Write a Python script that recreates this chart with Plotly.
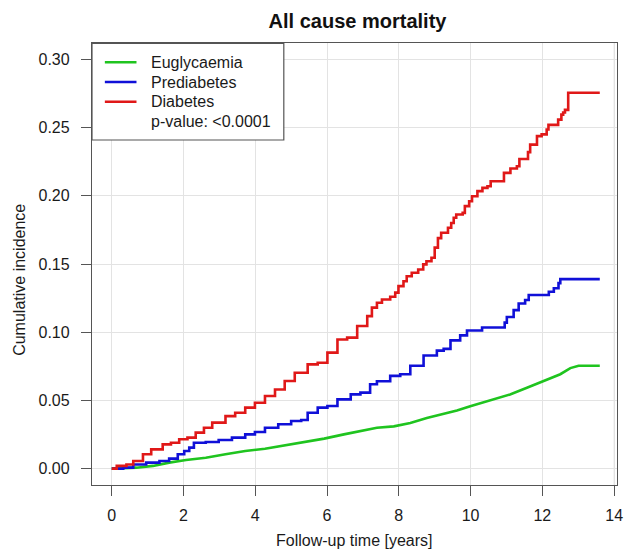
import plotly.graph_objects as go

# ---- data ----
t_red = [0, 0.14, 0.41, 0.6, 0.87, 1.1, 1.42, 1.65, 1.88, 2.11, 2.34, 2.57, 2.8, 3.17, 3.44, 3.72,
         3.99, 4.27, 4.55, 4.82, 5.1, 5.46, 5.74, 6.01, 6.29, 6.56, 6.84, 7.12, 7.25, 7.39, 7.53,
         7.76, 7.9, 7.99, 8.13, 8.22, 8.36, 8.54, 8.68, 8.77, 8.91, 9.0, 9.09, 9.18, 9.37, 9.46,
         9.53, 9.6, 9.78, 9.84, 9.96, 10.04, 10.19, 10.33, 10.47, 10.56, 10.93, 11.11, 11.29,
         11.36, 11.6, 11.66, 11.85, 11.98, 12.12, 12.17, 12.44, 12.53, 12.58, 12.63, 12.72, 13.6]
v_red = [0, 0.002, 0.003, 0.0056, 0.0105, 0.0141, 0.0178, 0.019, 0.0215, 0.0227, 0.0264, 0.030,
         0.0337, 0.0385, 0.041, 0.0447, 0.0483, 0.0532, 0.058, 0.0642, 0.0703, 0.0764, 0.0776,
         0.085, 0.0947, 0.096, 0.1045, 0.1118, 0.118, 0.1216, 0.124, 0.126, 0.129, 0.1338, 0.1374,
         0.141, 0.1436, 0.146, 0.1497, 0.152, 0.1546, 0.162, 0.169, 0.1729, 0.1766, 0.180, 0.1839,
         0.1863, 0.1875, 0.1924, 0.196, 0.1997, 0.2034, 0.2058, 0.207, 0.2107, 0.2168, 0.220,
         0.2217, 0.227, 0.232, 0.2375, 0.2437, 0.245, 0.2486, 0.252, 0.2558, 0.2595, 0.261, 0.263,
         0.2755, 0.2755]

t_blue = [0, 0.32, 0.6, 0.96, 1.33, 1.6, 1.84, 2.02, 2.16, 2.29, 2.62, 2.98, 3.35, 3.72, 3.99,
          4.27, 4.64, 5.0, 5.28, 5.46, 5.74, 6.01, 6.29, 6.66, 6.93, 7.2, 7.39, 7.76, 8.04, 8.32,
          8.69, 9.06, 9.25, 9.44, 9.71, 9.9, 10.32, 10.88, 10.95, 11.01, 11.2, 11.34, 11.52, 11.62,
          12.18, 12.32, 12.45, 12.5, 13.6]
v_blue = [0, 0.0007, 0.003, 0.0044, 0.0056, 0.0073, 0.0105, 0.0129, 0.0154, 0.019, 0.0195, 0.021,
          0.0227, 0.0251, 0.0268, 0.030, 0.0325, 0.0349, 0.0356, 0.041, 0.0447, 0.0459, 0.0508,
          0.0544, 0.0557, 0.0618, 0.064, 0.068, 0.0692, 0.0754, 0.0829, 0.0865, 0.0878, 0.094,
          0.0977, 0.1013, 0.1034, 0.1034, 0.107, 0.1112, 0.1162, 0.121, 0.1236, 0.1273, 0.1297,
          0.1322, 0.136, 0.1389, 0.1389]

t_green = [0, 0.3, 0.69, 1.15, 1.6, 2.07, 2.62, 3.17, 3.72, 4.27, 4.82, 5.37, 5.92, 6.47, 7.02,
           7.39, 7.86, 8.32, 8.78, 9.25, 9.62, 9.99, 10.32, 10.64, 11.1, 11.57, 12.04, 12.5,
           12.78, 13.01, 13.6]
v_green = [0, 0.0003, 0.0007, 0.002, 0.0044, 0.0063, 0.008, 0.0105, 0.0129, 0.0146, 0.017,
           0.0195, 0.022, 0.0251, 0.028, 0.030, 0.031, 0.0334, 0.0371, 0.040, 0.0426, 0.0458,
           0.0482, 0.0508, 0.0544, 0.0593, 0.0643, 0.0692, 0.0737, 0.0754, 0.0754]

x_ticks = [0, 2, 4, 6, 8, 10, 12, 14]
y_ticks = [0.00, 0.05, 0.10, 0.15, 0.20, 0.25, 0.30]
y_labels = ["0.00", "0.05", "0.10", "0.15", "0.20", "0.25", "0.30"]

series_names = ["Euglycaemia", "Prediabetes", "Diabetes"]
series_colors = ["#1fc41f", "#1010d8", "#e01818"]
p_text = "p-value: <0.0001"

FONT = "Liberation Sans, Arial, sans-serif"
TXT = "#1a1a1a"
GRID = "#e3e3e3"
W, H = 627, 552
PL, PR, PT, PB = 92, 623, 43, 485  # plot area in pixels


def px(xp):
    return (xp - PL) / (PR - PL)


def py(yp):
    return (PB - yp) / (PB - PT)


fig = go.Figure()
fig.add_trace(go.Scatter(x=t_green, y=v_green, mode="lines", name=series_names[0],
                         line=dict(color=series_colors[0], width=2.6, shape="linear")))
fig.add_trace(go.Scatter(x=t_blue, y=v_blue, mode="lines", name=series_names[1],
                         line=dict(color=series_colors[1], width=2.6, shape="hv")))
fig.add_trace(go.Scatter(x=t_red, y=v_red, mode="lines", name=series_names[2],
                         line=dict(color=series_colors[2], width=2.6, shape="hv")))

axis_common = dict(showline=True, linecolor="#555555", linewidth=1.3, mirror=True,
                   ticks="outside", ticklen=10, tickwidth=1.2, tickcolor="#555555",
                   showgrid=True, gridcolor=GRID, gridwidth=1, zeroline=False,
                   ticklabeloverflow="allow",
                   tickfont=dict(family=FONT, size=16, color=TXT))

# grid line at the last x tick (plotly hides it next to the frame)
shapes = [dict(type="line", xref="x", yref="paper", x0=x_ticks[-1], x1=x_ticks[-1],
               y0=0, y1=1, line=dict(color=GRID, width=1), layer="below")]

# manual legend (box, keys, labels)
shapes.append(dict(type="rect", xref="paper", yref="paper", x0=px(92), x1=px(286),
                   y0=py(43.3), y1=py(140), line=dict(color="#555555", width=1.2),
                   fillcolor="white", layer="above"))
annotations = []
rows = [62.3, 82, 101.7, 121.5]
for i, (nm, col) in enumerate(zip(series_names, series_colors)):
    shapes.append(dict(type="line", xref="paper", yref="paper", x0=px(105), x1=px(137),
                       y0=py(rows[i]), y1=py(rows[i]), line=dict(color=col, width=2.6),
                       layer="above"))
    annotations.append(dict(text=nm, xref="paper", yref="paper", x=px(150), y=py(rows[i]),
                            xanchor="left", yanchor="middle", showarrow=False,
                            font=dict(family=FONT, size=16, color=TXT)))
annotations.append(dict(text=p_text, xref="paper", yref="paper", x=px(150), y=py(rows[3]),
                        xanchor="left", yanchor="middle", showarrow=False,
                        font=dict(family=FONT, size=16, color=TXT)))
annotations += [
    dict(text="Follow-up time [years]", xref="paper", yref="paper", x=0.5,
         y=py(540), xanchor="center", yanchor="middle",
         showarrow=False, font=dict(family=FONT, size=16, color=TXT)),
    dict(text="Cumulative incidence", xref="paper", yref="paper",
         x=px(18), y=py(280), textangle=-90, xanchor="center", yanchor="middle",
         showarrow=False, font=dict(family=FONT, size=16, color=TXT)),
]

fig.update_layout(
    width=W, height=H,
    margin=dict(l=PL, r=W - PR, t=PT, b=H - PB),
    paper_bgcolor="white", plot_bgcolor="white",
    title=dict(text="<b>All cause mortality</b>", x=357.5 / W, xanchor="center",
               xref="container", yref="container", y=1 - 21 / H, yanchor="middle",
               font=dict(family=FONT, size=20, color="#111111")),
    xaxis=dict(range=[-0.55, 14.08], tickvals=x_ticks, ticktext=[str(v) for v in x_ticks],
               ticklabelstandoff=6, **axis_common),
    yaxis=dict(range=[-0.012, 0.312], tickvals=y_ticks, ticktext=y_labels,
               ticklabelstandoff=8, **axis_common),
    showlegend=False,
    shapes=shapes,
    annotations=annotations,
)

fig.write_html("out.html")
